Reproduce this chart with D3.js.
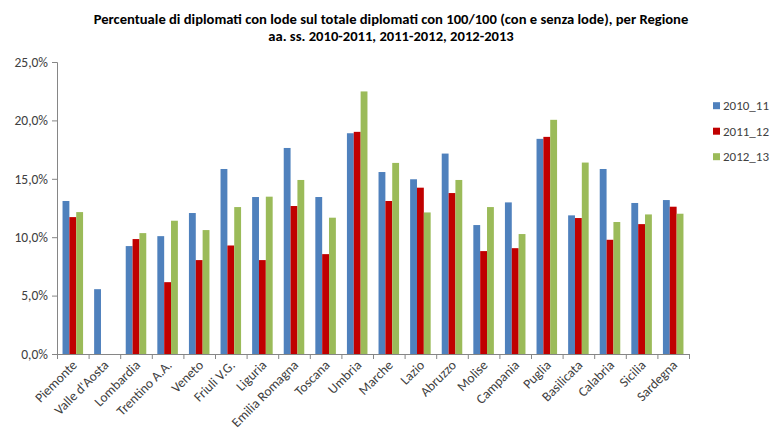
<!DOCTYPE html>
<html>
<head>
<meta charset="utf-8">
<script src="https://cdn.jsdelivr.net/npm/d3@7"></script>
<style>
  body { margin: 0; background: #fff; }
  svg { display: block; font-family: Carlito, Calibri, "Open Sans", sans-serif; }
</style>
</head>
<body>
<div id="chart"></div>
<script>
// regions on the x axis
const regions = ['Piemonte', "Valle d'Aosta", 'Lombardia', 'Trentino A.A.', 'Veneto',
  'Friuli V.G.', 'Liguria', 'Emilia Romagna', 'Toscana', 'Umbria', 'Marche', 'Lazio',
  'Abruzzo', 'Molise', 'Campania', 'Puglia', 'Basilicata', 'Calabria', 'Sicilia', 'Sardegna'];

const seriesNames = ['2010_11', '2011_12', '2012_13'];

// percent values (null = no bar)
const values2010 = [13.1, 5.55, 9.24, 10.09, 12.07, 15.84, 13.44, 17.64, 13.44, 18.9,
  15.58, 14.96, 17.16, 11.04, 12.98, 18.42, 11.87, 15.84, 12.93, 13.18];
const values2011 = [11.72, null, 9.84, 6.15, 8.04, 9.29, 8.04, 12.67, 8.55, 19.02,
  13.1, 14.24, 13.78, 8.81, 9.06, 18.59, 11.64, 9.78, 11.12, 12.61];
const values2012 = [12.15, null, 10.35, 11.41, 10.61, 12.58, 13.47, 14.9, 11.67, 22.48,
  16.36, 12.12, 14.9, 12.58, 10.27, 20.05, 16.39, 11.3, 11.95, 12.01];

const yTicks = [0, 5, 10, 15, 20, 25];

const titleLines = [
  'Percentuale di diplomati con lode sul totale diplomati con 100/100 (con e senza lode), per Regione',
  'aa. ss. 2010-2011, 2011-2012, 2012-2013',
];

const colors = ['#4F81BD', '#C00000', '#9BBB59'];

const width = 771;
const height = 432;
const margin = { top: 62, right: 82, bottom: 78, left: 57 };

const svg = d3.select('#chart').append('svg')
  .attr('width', width)
  .attr('height', height);

// title
svg.append('g')
  .selectAll('text')
  .data(titleLines)
  .enter().append('text')
  .attr('x', 391)
  .attr('y', (d, i) => 24 + i * 17)
  .attr('text-anchor', 'middle')
  .attr('font-weight', 'bold')
  .attr('font-size', 14.6)
  .attr('fill', '#000')
  .text(d => d);

const x = d3.scaleBand()
  .domain(regions)
  .range([margin.left, width - margin.right])
  .paddingInner(0.35)
  .paddingOuter(0.175);

const xs = d3.scaleBand()
  .domain(seriesNames)
  .range([0, x.bandwidth()]);

const y = d3.scaleLinear()
  .domain([0, 25])
  .range([height - margin.bottom, margin.top]);

const series = [values2010, values2011, values2012];

const rows = regions.map((r, i) => ({
  region: r,
  vals: seriesNames.map((s, j) => ({ key: s, value: series[j][i], color: colors[j] })),
}));

// bars
const groups = svg.append('g')
  .selectAll('g')
  .data(rows)
  .enter().append('g')
  .attr('transform', d => `translate(${x(d.region)},0)`);

groups.selectAll('rect')
  .data(d => d.vals.filter(v => v.value !== null))
  .enter().append('rect')
  .attr('x', d => xs(d.key))
  .attr('width', xs.bandwidth())
  .attr('y', d => y(d.value))
  .attr('height', d => y(0) - y(d.value))
  .attr('fill', d => d.color);

// y axis
const yAxis = svg.append('g')
  .attr('transform', `translate(${margin.left},0)`)
  .call(d3.axisLeft(y)
    .tickValues(yTicks)
    .tickSize(5)
    .tickPadding(4)
    .tickFormat(d => d3.format('.1f')(d).replace('.', ',') + '%'));

yAxis.select('.domain').attr('stroke', '#868686');
yAxis.selectAll('.tick line').attr('stroke', '#868686');
yAxis.selectAll('.tick text')
  .attr('font-size', 13.5)
  .attr('fill', '#404040')
  .style('font-family', 'Carlito, Calibri, "Open Sans", sans-serif');

// x axis: tick marks at category boundaries
const step = x.step();
const x0 = margin.left;
const boundaries = d3.range(regions.length + 1).map(i => x0 + i * step);

svg.append('line')
  .attr('x1', x0)
  .attr('x2', boundaries[boundaries.length - 1])
  .attr('y1', y(0) + 0.5)
  .attr('y2', y(0) + 0.5)
  .attr('stroke', '#868686');

svg.append('g')
  .selectAll('line')
  .data(boundaries)
  .enter().append('line')
  .attr('x1', d => d + 0.5)
  .attr('x2', d => d + 0.5)
  .attr('y1', y(0))
  .attr('y2', y(0) + 5)
  .attr('stroke', '#868686');

svg.append('g')
  .selectAll('text')
  .data(regions)
  .enter().append('text')
  .attr('transform', d => `translate(${x(d) + x.bandwidth() / 2 + 5},${y(0) + 12}) rotate(-45)`)
  .attr('text-anchor', 'end')
  .attr('font-size', 13.5)
  .attr('fill', '#404040')
  .text(d => d);

// legend
const legend = svg.append('g')
  .selectAll('g')
  .data(seriesNames)
  .enter().append('g')
  .attr('transform', (d, i) => `translate(713,${105.7 + i * 25.5})`);

legend.append('rect')
  .attr('x', 0)
  .attr('y', -3.5)
  .attr('width', 7)
  .attr('height', 7)
  .attr('fill', (d, i) => colors[i]);

legend.append('text')
  .attr('x', 10)
  .attr('y', 4.5)
  .attr('font-size', 13)
  .attr('fill', '#404040')
  .text(d => d);
</script>
</body>
</html>
